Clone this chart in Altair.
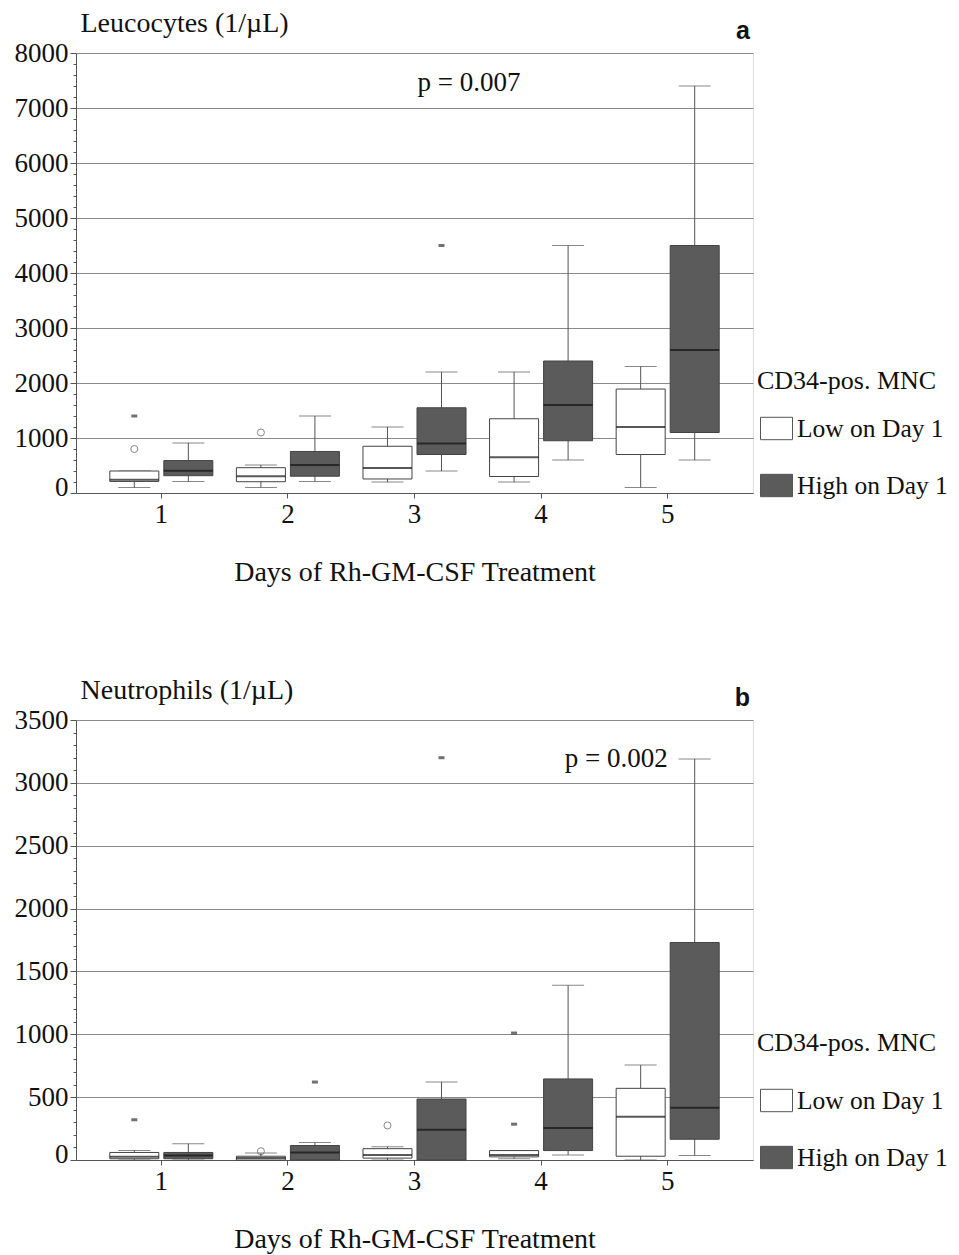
import altair as alt
import pandas as pd

FONT = "Liberation Serif"
GROUPS = ["Low on Day 1", "High on Day 1"]

# ---------- Panel a: Leucocytes ----------
leu_day = [1, 1, 2, 2, 3, 3, 4, 4, 5, 5]
leu_group = ["Low on Day 1", "High on Day 1"] * 5
leu_lower = [100, 210, 100, 210, 200, 400, 200, 600, 100, 600]
leu_q1 = [210, 315, 205, 305, 255, 700, 300, 950, 700, 1100]
leu_median = [240, 405, 305, 510, 455, 900, 650, 1600, 1200, 2600]
leu_q3 = [400, 590, 460, 755, 850, 1550, 1350, 2400, 1890, 4500]
leu_upper = [400, 910, 510, 1400, 1200, 2200, 2200, 4500, 2300, 7400]

leu_out_day = [1, 1, 2, 3]
leu_out_group = ["Low on Day 1", "Low on Day 1", "Low on Day 1", "High on Day 1"]
leu_out_value = [800, 1400, 1100, 4500]
leu_out_kind = ["outlier", "extreme", "outlier", "extreme"]

# ---------- Panel b: Neutrophils ----------
neu_day = [1, 1, 2, 2, 3, 3, 4, 4, 5, 5]
neu_group = ["Low on Day 1", "High on Day 1"] * 5
neu_lower = [0, 0, 0, 0, 0, 0, 10, 40, 0, 35]
neu_q1 = [10, 10, 0, 0, 15, 0, 25, 75, 30, 165]
neu_median = [25, 35, 15, 60, 40, 240, 40, 255, 345, 415]
neu_q3 = [60, 60, 30, 115, 90, 485, 75, 645, 570, 1730]
neu_upper = [75, 130, 55, 140, 105, 620, 75, 1390, 755, 3190]

neu_out_day = [1, 2, 2, 3, 3, 4, 4]
neu_out_group = ["Low on Day 1", "Low on Day 1", "High on Day 1", "Low on Day 1",
                 "High on Day 1", "Low on Day 1", "Low on Day 1"]
neu_out_value = [320, 70, 620, 275, 3200, 1010, 285]
neu_out_kind = ["extreme", "outlier", "extreme", "outlier", "extreme", "extreme", "extreme"]


def make_panel(day, group, lower, q1, med, q3, upper,
               o_day, o_group, o_val, o_kind,
               ymax, major, minor, ytitle, letter, ptext, p_day, p_val, p_align, p_dx,
               legend_y, legend_title_pad):
    box = pd.DataFrame({"day": [str(d) for d in day], "group": group, "lower": lower,
                        "q1": q1, "median": med, "q3": q3, "upper": upper})
    out = pd.DataFrame({"day": [str(d) for d in o_day], "group": o_group,
                        "value": o_val, "kind": o_kind})
    ann = pd.DataFrame({"day": [str(p_day)], "value": [p_val], "label": [ptext]})

    vals = list(range(0, ymax + 1, minor))
    cond_major = f"datum.value % {major} === 0"
    yscale = alt.Scale(domain=[0, ymax], nice=False, zero=True)
    yaxis = alt.Axis(
        values=vals, format="d", labelExpr=f"{cond_major} ? datum.label : ''",
        labelOverlap=False, labelFlush=False,
        tickSize=alt.condition(cond_major, alt.value(6), alt.value(3)),
        gridOpacity=alt.condition(cond_major, alt.value(1), alt.value(0)),
        labelOffset=alt.condition("datum.value === 0", alt.value(-6), alt.value(0)),
        grid=True, gridColor="#8a8a8a", gridWidth=1,
        domainColor="#555", tickColor="#555", labelPadding=2,
        labelFontSize=27, labelFont=FONT, labelColor="#111",
        title=ytitle, titleAngle=0, titleAlign="left", titleBaseline="alphabetic",
        titleX=4, titleY=-22, titleFont=FONT, titleFontSize=28, titleFontWeight="normal",
        titleColor="#111",
    )
    xscale = alt.Scale(domain=["1", "2", "3", "4", "5"], paddingInner=0, paddingOuter=0.174)
    xaxis = alt.Axis(labelAngle=0, tickSize=5, labelPadding=3, domainColor="#555",
                     tickColor="#555", grid=False, labelFontSize=27, labelFont=FONT,
                     labelColor="#111", titleFont=FONT, titleFontSize=28,
                     titleFontWeight="normal", titleColor="#111", titlePadding=31)
    X = alt.X("day:O", scale=xscale, axis=xaxis, title="Days of Rh-GM-CSF Treatment")
    XO = alt.XOffset("group:N", sort=GROUPS,
                     scale=alt.Scale(domain=GROUPS, paddingInner=0.0926, paddingOuter=0.218))

    def Y(field):
        return alt.Y(f"{field}:Q", scale=yscale, axis=yaxis, title=ytitle)

    base = alt.Chart(box)
    whisker = base.mark_rule(color="#555", strokeWidth=1).encode(
        x=X, xOffset=XO, y=Y("lower"), y2="upper:Q")
    cap_hi = base.mark_tick(color="#555", size=32, thickness=1).encode(
        x=X, xOffset=XO, y=Y("upper"))
    cap_lo = base.mark_tick(color="#555", size=32, thickness=1).encode(
        x=X, xOffset=XO, y=Y("lower"))
    boxes = base.mark_bar(stroke="#444", strokeWidth=1, opacity=1).encode(
        x=X, xOffset=XO, y=Y("q1"), y2="q3:Q",
        fill=alt.Fill("group:N", sort=GROUPS,
                      scale=alt.Scale(domain=GROUPS, range=["#ffffff", "#5b5b5b"]),
                      legend=alt.Legend(
                          title="CD34-pos. MNC", orient="none", legendX=681, legendY=legend_y,
                          titleFont=FONT, titleFontSize=26, titleFontWeight="normal",
                          titleColor="#111", labelFont=FONT, labelFontSize=25.5,
                          labelColor="#111", symbolType="M-1,-0.7H1V0.7H-1Z",
                          symbolSize=1024, symbolStrokeColor="#555", symbolStrokeWidth=1,
                          rowPadding=27, titlePadding=legend_title_pad, labelOffset=4,
                          symbolOffset=3, padding=0, titleLimit=0, labelLimit=0)))
    median = base.mark_tick(color="#111", size=49, thickness=2).encode(
        x=X, xOffset=XO, y=Y("median"))

    obase = alt.Chart(out)
    circ = obase.transform_filter("datum.kind === 'outlier'").mark_point(
        shape="circle", size=50, filled=False, color="#555", strokeWidth=1).encode(
        x=X, xOffset=XO, y=Y("value"))
    ext = obase.transform_filter("datum.kind === 'extreme'").mark_point(
        shape="M-1,-0.5H1V0.5H-1Z", size=36, filled=True, color="#333").encode(
        x=X, xOffset=XO, y=Y("value"))

    ptxt = alt.Chart(ann).mark_text(font=FONT, fontSize=27, color="#111", align=p_align,
                                    baseline="middle", dx=p_dx).encode(
        x=X, y=Y("value"), text="label:N")
    lett = alt.Chart(pd.DataFrame({"t": [letter]})).mark_text(
        font="Liberation Sans", fontWeight="bold", fontSize=25, color="#111",
        align="right", baseline="middle").encode(
        x=alt.value(674), y=alt.value(-22), text="t:N")

    return alt.layer(whisker, cap_hi, cap_lo, boxes, median, circ, ext, ptxt, lett).properties(
        width=677, height=440)


top = make_panel(leu_day, leu_group, leu_lower, leu_q1, leu_median, leu_q3, leu_upper,
                 leu_out_day, leu_out_group, leu_out_value, leu_out_kind,
                 8000, 1000, 200, "Leucocytes (1/µL)", "a", "p = 0.007", 3, 7450, "left", 3,
                 315, 18)
bottom = make_panel(neu_day, neu_group, neu_lower, neu_q1, neu_median, neu_q3, neu_upper,
                    neu_out_day, neu_out_group, neu_out_value, neu_out_kind,
                    3500, 500, 100, "Neutrophils (1/µL)", "b", "p = 0.002", 5, 3190, "right", 0,
                    310, 28)

chart = alt.vconcat(top, bottom, spacing=88).resolve_scale(
    y="independent", x="independent", fill="independent", xOffset="independent"
).resolve_legend(fill="independent").properties(
    padding={"top": 0, "left": 5, "right": 0, "bottom": 0}
).configure_view(
    stroke="#8a8a8a", strokeWidth=1
).configure(font=FONT, background="white")

chart.save("out.html", embed_options={"renderer": "svg", "actions": False})
